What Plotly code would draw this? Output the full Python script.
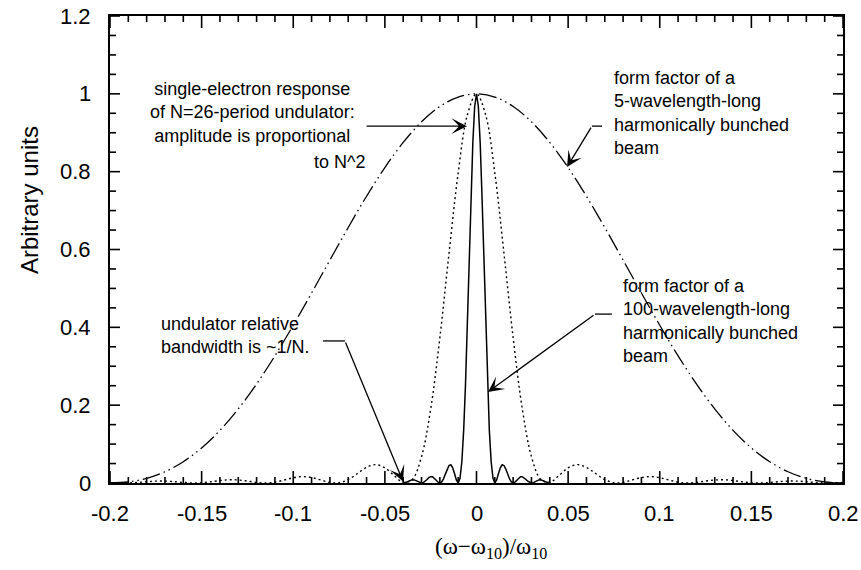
import plotly.graph_objects as go

# ---- data ----
# wide dash-dot-dot curve: form factor of a 5-wavelength-long bunched beam
wide_x = [-0.20, -0.19, -0.18, -0.17, -0.16, -0.15, -0.14, -0.13, -0.12, -0.11, -0.10,
          -0.09, -0.08, -0.07, -0.06, -0.05, -0.04, -0.03, -0.02, -0.01, 0.00,
          0.01, 0.02, 0.03, 0.04, 0.05, 0.06, 0.07, 0.08, 0.09, 0.10,
          0.11, 0.12, 0.13, 0.14, 0.15, 0.16, 0.17, 0.18, 0.19, 0.20]
wide_y = [0, 0.0027, 0.0119, 0.0289, 0.0547, 0.0901, 0.1353, 0.1904, 0.2546, 0.3267, 0.4053,
          0.4881, 0.5728, 0.6566, 0.7368, 0.8106, 0.8751, 0.9281, 0.9675, 0.9918, 1.0,
          0.9918, 0.9675, 0.9281, 0.8751, 0.8106, 0.7368, 0.6566, 0.5728, 0.4881, 0.4053,
          0.3267, 0.2546, 0.1904, 0.1353, 0.0901, 0.0547, 0.0289, 0.0119, 0.0027, 0]

# dotted curve: single-electron response of N=26-period undulator
dot_x = [-0.200, -0.195, -0.190, -0.185, -0.180, -0.175, -0.170, -0.165, -0.160, -0.155,
         -0.150, -0.145, -0.140, -0.135, -0.130, -0.125, -0.120, -0.115, -0.110, -0.105,
         -0.100, -0.095, -0.090, -0.085, -0.080, -0.075, -0.070, -0.065, -0.060, -0.055,
         -0.050, -0.045, -0.040, -0.035, -0.030, -0.025, -0.020, -0.015, -0.010, -0.005,
         0.000,
         0.005, 0.010, 0.015, 0.020, 0.025, 0.030, 0.035, 0.040, 0.045, 0.050,
         0.055, 0.060, 0.065, 0.070, 0.075, 0.080, 0.085, 0.090, 0.095, 0.100,
         0.105, 0.110, 0.115, 0.120, 0.125, 0.130, 0.135, 0.140, 0.145, 0.150,
         0.155, 0.160, 0.165, 0.170, 0.175, 0.180, 0.185, 0.190, 0.195, 0.200]
dot_y = [0.0013, 0.0002, 0.0001, 0.0014, 0.0033, 0.0048, 0.0049, 0.0034, 0.0014, 0.0001,
         0.0006, 0.0031, 0.0063, 0.0082, 0.0077, 0.0048, 0.0014, 0.0000, 0.0022, 0.0076,
         0.0136, 0.0165, 0.0142, 0.0078, 0.0014, 0.0007, 0.0088, 0.0243, 0.0402, 0.0472,
         0.0392, 0.0192, 0.0015, 0.0095, 0.0677, 0.1904, 0.3733, 0.5897, 0.7965, 0.9457,
         1.0,
         0.9457, 0.7965, 0.5897, 0.3733, 0.1904, 0.0677, 0.0095, 0.0015, 0.0192, 0.0392,
         0.0472, 0.0402, 0.0243, 0.0088, 0.0007, 0.0014, 0.0078, 0.0142, 0.0165, 0.0136,
         0.0076, 0.0022, 0.0000, 0.0014, 0.0048, 0.0077, 0.0082, 0.0063, 0.0031, 0.0006,
         0.0001, 0.0014, 0.0034, 0.0049, 0.0048, 0.0033, 0.0014, 0.0001, 0.0002, 0.0013]

# solid curve: form factor of a 100-wavelength-long bunched beam
solid_x = [-0.040, -0.039, -0.038, -0.037, -0.036, -0.035, -0.034, -0.033, -0.032, -0.031,
           -0.030, -0.029, -0.028, -0.027, -0.026, -0.025, -0.024, -0.023, -0.022, -0.021,
           -0.020, -0.019, -0.018, -0.017, -0.016, -0.015, -0.014, -0.013, -0.012, -0.011,
           -0.010, -0.009, -0.008, -0.007, -0.006, -0.005, -0.004, -0.003, -0.002, -0.001,
           0.000,
           0.001, 0.002, 0.003, 0.004, 0.005, 0.006, 0.007, 0.008, 0.009, 0.010,
           0.011, 0.012, 0.013, 0.014, 0.015, 0.016, 0.017, 0.018, 0.019, 0.020,
           0.021, 0.022, 0.023, 0.024, 0.025, 0.026, 0.027, 0.028, 0.029, 0.030,
           0.031, 0.032, 0.033, 0.034, 0.035, 0.036, 0.037, 0.038, 0.039, 0.040]
solid_y = [0, 0.0006, 0.0024, 0.0048, 0.0071, 0.0083, 0.0079, 0.0061, 0.0034, 0.0010,
           0, 0.0012, 0.0045, 0.0091, 0.0136, 0.0162, 0.0159, 0.0125, 0.0072, 0.0022,
           0, 0.0027, 0.0108, 0.0229, 0.0358, 0.0450, 0.0468, 0.0392, 0.0243, 0.0080,
           0, 0.0119, 0.0547, 0.1353, 0.2546, 0.4053, 0.5728, 0.7368, 0.8751, 0.9675,
           1.0,
           0.9675, 0.8751, 0.7368, 0.5728, 0.4053, 0.2546, 0.1353, 0.0547, 0.0119, 0,
           0.0080, 0.0243, 0.0392, 0.0468, 0.0450, 0.0358, 0.0229, 0.0108, 0.0027, 0,
           0.0022, 0.0072, 0.0125, 0.0159, 0.0162, 0.0136, 0.0091, 0.0045, 0.0012, 0,
           0.0010, 0.0034, 0.0061, 0.0079, 0.0083, 0.0071, 0.0048, 0.0024, 0.0006, 0]

x_tickvals = [-0.2, -0.15, -0.1, -0.05, 0, 0.05, 0.1, 0.15, 0.2]
x_ticktext = ['-0.2', '-0.15', '-0.1', '-0.05', '0', '0.05', '0.1', '0.15', '0.2']
y_tickvals = [0, 0.2, 0.4, 0.6, 0.8, 1.0, 1.2]
y_ticktext = ['0', '0.2', '0.4', '0.6', '0.8', '1', '1.2']
X_RANGE = [-0.2, 0.2]
Y_RANGE = [0, 1.2]

SANS = "Liberation Sans, Arial, Helvetica, sans-serif"
SERIF = "Liberation Serif, Times New Roman, serif"

W, H = 861, 570
ML, MR, MT, MB = 110, 18, 16, 87
PW, PH = W - ML - MR, H - MT - MB   # plot area in px

fig = go.Figure()
fig.add_trace(go.Scatter(x=wide_x, y=wide_y, mode="lines",
                         line=dict(color="black", width=1.3, shape="spline",
                                   dash="18px,4px,1.5px,4px,1.5px,4px")))
fig.add_trace(go.Scatter(x=dot_x, y=dot_y, mode="lines",
                         line=dict(color="black", width=1.4, shape="spline",
                                   dash="2px,3px")))
fig.add_trace(go.Scatter(x=solid_x, y=solid_y, mode="lines",
                         line=dict(color="black", width=1.5)))

# ---- inside ticks on all four sides (major + minor), as paper-referenced lines ----
shapes = []
x_minor = [i / 100 for i in range(-20, 21)]
y_minor = [i / 20 for i in range(0, 25)]
for v in x_minor:
    major = any(abs(v - t) < 1e-9 for t in x_tickvals)
    L = (12 if major else 6) / PH
    for y0, y1 in ((0, L), (1, 1 - L)):
        shapes.append(dict(type="line", xref="x", yref="paper", x0=v, x1=v, y0=y0, y1=y1,
                           line=dict(color="black", width=1.6), layer="above"))
for v in y_minor:
    major = any(abs(v - t) < 1e-9 for t in y_tickvals)
    L = (10 if major else 6) / PW
    for x0, x1 in ((0, L), (1, 1 - L)):
        shapes.append(dict(type="line", xref="paper", yref="y", x0=x0, x1=x1, y0=v, y1=v,
                           line=dict(color="black", width=1.6), layer="above"))

# short leader segments of the annotation arrows
leaders = [
    (0.0685, 0.917, 0.0630, 0.917),
    (0.0739, 0.434, 0.0647, 0.434),
    (-0.0838, 0.365, -0.0718, 0.365),
]
for x0, y0, x1, y1 in leaders:
    shapes.append(dict(type="line", x0=x0, y0=y0, x1=x1, y1=y1, xref="x", yref="y",
                       line=dict(color="black", width=1.3)))

annotations = []
# tick labels
for v, s in zip(x_tickvals, x_ticktext):
    annotations.append(dict(x=v, y=-0.066, xref="x", yref="paper", text=s, showarrow=False,
                            xanchor="center", yanchor="middle",
                            font=dict(family=SANS, size=22, color="black")))
for v, s in zip(y_tickvals, y_ticktext):
    annotations.append(dict(x=-0.023, y=v, xref="paper", yref="y", text=s, showarrow=False,
                            xanchor="right", yanchor="middle",
                            font=dict(family=SANS, size=22, color="black")))

# annotation texts
texts = [
    dict(x=-0.1225, y=0.953, xanchor="center", align="center",
         text="single-electron response<br>of N=26-period undulator:<br>amplitude is proportional"),
    dict(x=-0.0598, y=0.825, xanchor="right", align="right", text="to N^2"),
    dict(x=0.0739, y=0.952, xanchor="left", align="left",
         text="form factor of a<br>5-wavelength-long<br>harmonically bunched<br>beam"),
    dict(x=0.0789, y=0.416, xanchor="left", align="left",
         text="form factor of a<br>100-wavelength-long<br>harmonically bunched<br>beam"),
    dict(x=-0.1733, y=0.380, xanchor="left", align="left",
         text="undulator relative<br>bandwidth is ~1/N."),
]
for t in texts:
    annotations.append(dict(x=t["x"], y=t["y"], xref="x", yref="y", text=t["text"],
                            showarrow=False, xanchor=t["xanchor"], yanchor="middle",
                            align=t["align"], font=dict(family=SANS, size=18, color="black")))

# arrows: (tip_x, tip_y, tail_x, tail_y)
arrows = [
    (-0.0052, 0.917, -0.0608, 0.917),
    (0.0494, 0.812, 0.0630, 0.917),
    (0.0063, 0.234, 0.0647, 0.434),
    (-0.0401, 0.004, -0.0718, 0.365),
]
for tx, ty, sx, sy in arrows:
    annotations.append(dict(x=tx, y=ty, ax=sx, ay=sy, xref="x", yref="y", axref="x", ayref="y",
                            text="", showarrow=True, arrowhead=3, arrowsize=2.0,
                            arrowwidth=1.3, arrowcolor="black", standoff=0))

# axis titles
annotations.append(dict(x=-0.109, y=0.606, xref="paper", yref="paper", text="Arbitrary units",
                        textangle=-90, showarrow=False, xanchor="center", yanchor="middle",
                        font=dict(family=SANS, size=24, color="black")))
annotations.append(dict(x=0.52, y=-0.139, xref="paper", yref="paper",
                        text="(ω−ω<sub>10</sub>)/ω<sub>10</sub>",
                        showarrow=False, xanchor="center", yanchor="middle",
                        font=dict(family=SERIF, size=23, color="black")))

fig.update_layout(
    width=W, height=H,
    margin=dict(l=ML, r=MR, t=MT, b=MB),
    paper_bgcolor="white", plot_bgcolor="white",
    showlegend=False,
    shapes=shapes,
    annotations=annotations,
    xaxis=dict(range=X_RANGE, showticklabels=False, ticks="",
               showline=True, linecolor="black", linewidth=1.5, mirror=True,
               showgrid=False, zeroline=False, automargin=False),
    yaxis=dict(range=Y_RANGE, showticklabels=False, ticks="",
               showline=True, linecolor="black", linewidth=1.5, mirror=True,
               showgrid=False, zeroline=False, automargin=False),
)

fig.write_html("out.html")
